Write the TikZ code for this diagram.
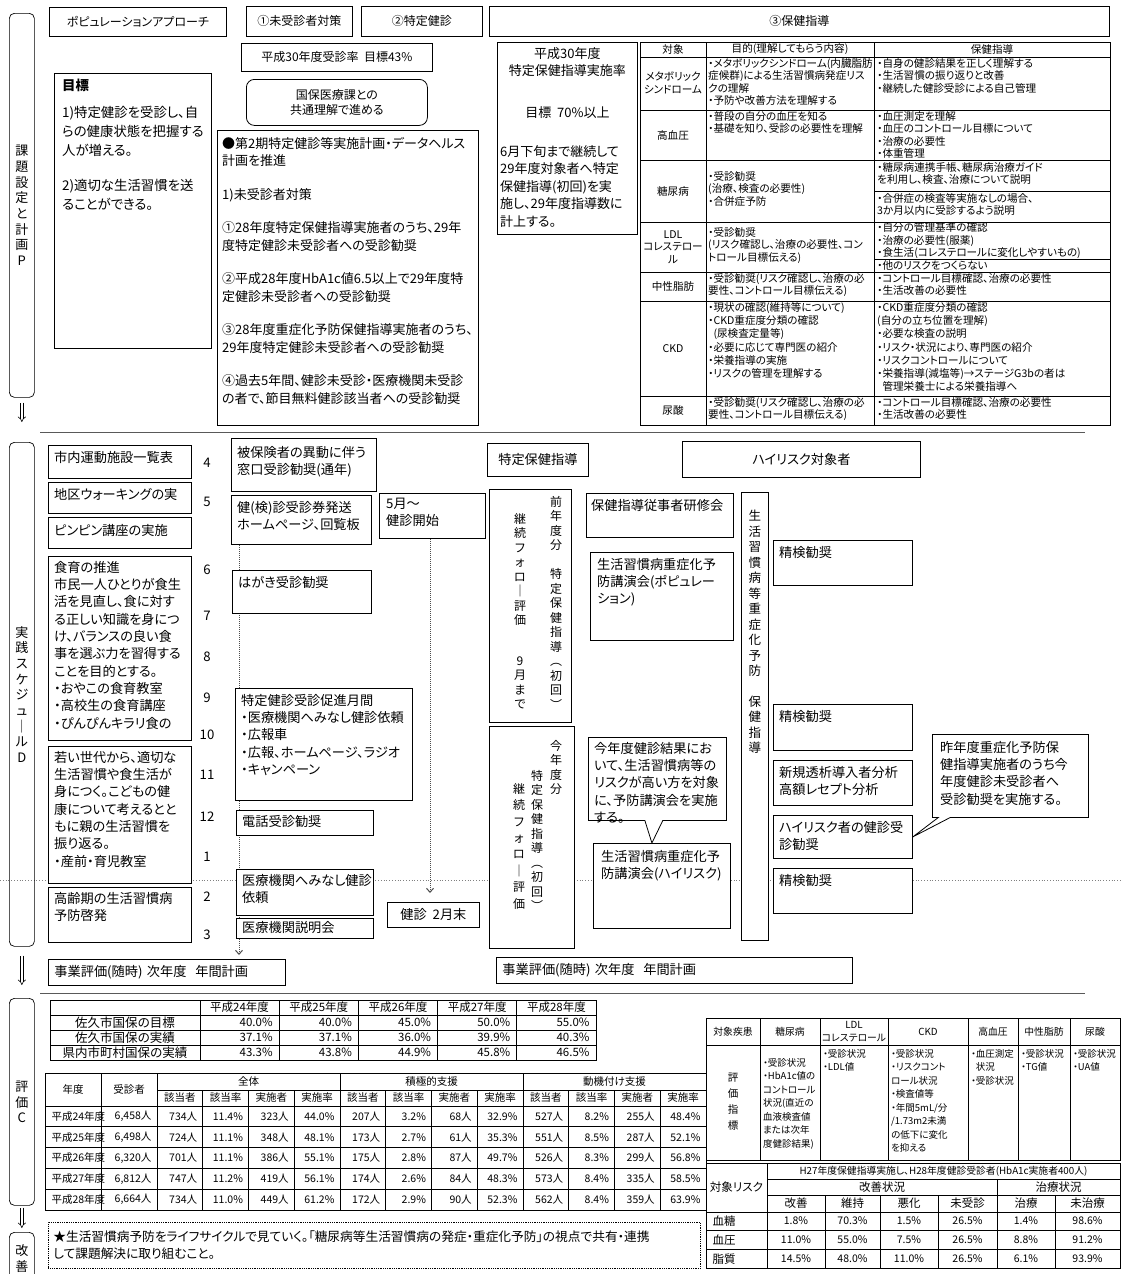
\documentclass[tikz,border=0pt]{standalone}
\usepackage{fontspec}
\setmainfont{Noto Sans CJK JP}[RawFeature=+palt]
\usepackage{tikz}
\usetikzlibrary{positioning, arrows.meta, shapes.callouts, backgrounds}

\begin{document}
\begin{tikzpicture}[
    x=1pt, y=-1pt,
    box/.style={draw, line width=0.8pt, fill=white, anchor=north west, inner sep=0pt},
    txt/.style={anchor=north west, align=left, inner sep=0pt},
    vtxt/.style={anchor=north, align=center, inner sep=0pt},
    lab/.style={draw, line width=0.7pt, rounded corners=5pt, anchor=north west,
                inner sep=0pt, align=center, font=\fontsize{13}{15.7}\selectfont},
    fuki/.style={rectangle callout, draw, fill=white, line width=0.8pt,
                 anchor=north west, inner sep=0pt},
    fA/.style={font=\fontsize{13}{17.5}\selectfont},
    fG/.style={font=\fontsize{13.4}{19}\selectfont},
    fB/.style={font=\fontsize{12}{15}\selectfont},
    fD/.style={font=\fontsize{13.2}{17.3}\selectfont},
    fV/.style={font=\fontsize{12}{14.5}\selectfont},
    fT/.style={font=\fontsize{10.6}{12.6}\selectfont},
    fU/.style={font=\fontsize{10.6}{13.3}\selectfont},
    fE/.style={font=\fontsize{9.5}{13.5}\selectfont},
    fS/.style={font=\fontsize{12.5}{14}\selectfont},
    fR/.style={font=\fontsize{10.5}{12}\selectfont},
    grid/.style={line width=0.7pt},
    sepline/.style={line width=1pt, gray!70!black},
    dbl/.style={double, double distance=2.2pt, line width=0.6pt, -{Implies}},
    dotarr/.style={densely dotted, line width=1pt, gray!60!black,
                   -{Straight Barb[length=4pt, width=7pt]}},
    hdot/.style={dotted, line width=0.8pt, gray}
]

% 背景と用紙サイズ
\begin{scope}[on background layer]
  \fill[white] (0,0) rectangle (1123,1274);
\end{scope}
\useasboundingbox (0,0) rectangle (1123,1274);

% 左側の段階ラベル
\node[lab, minimum width=25, minimum height=384] (lblP) at (9,13) {課\\題\\設\\定\\と\\計\\画\\P};
\node[lab, minimum width=25, minimum height=504] (lblD) at (9,442) {実\\践\\ス\\ケ\\ジ\\ュ\\｜\\ル\\D};
\node[lab, minimum width=25, minimum height=207] (lblC) at (9,998) {評\\価\\C};
\node[lab, minimum width=25, minimum height=52] (lblK) at (9,1232) {改\\善};

\draw[dbl, shorten <=5pt, shorten >=20pt] (lblP) -- (lblD);
\draw[dbl, shorten <=9pt, shorten >=13pt] (lblD) -- (lblC);
\draw[dbl, shorten <=2pt, shorten >=4pt] (lblC) -- (lblK);

% ===== 課題設定と計画 =====
\node[box, fB, minimum width=177, minimum height=29] (hPop) at (49,7) {ポピュレーションアプローチ};
\node[box, fB, minimum width=106, minimum height=30] (hMi) at (246,6) {①未受診者対策};
\node[box, fB, minimum width=121, minimum height=30] (hTk) at (361,6) {②特定健診};
\node[box, fB, minimum width=620, minimum height=30] (hHo) at (489,6) {③保健指導};

\node[box, fB, minimum width=191, minimum height=28] (rate) at (241,43) {平成30年度受診率\ \ 目標43\%};
\node[box, fB, rounded corners=8pt, minimum width=181, minimum height=46, align=center] (kokuho) at (246,79) {国保医療課との\\共通理解で進める};

\node[box, minimum width=157, minimum height=275] (goal) at (54,73) {};
\node[txt, fG] (goal-t) at ([shift={(8,6)}]goal.north west)
  {\textbf{目標}\\[8pt]1)特定健診を受診し、自\\らの健康状態を把握する\\人が増える。\\[16pt]2)適切な生活習慣を送\\ることができる。};

\node[box, minimum width=261, minimum height=295] (plan) at (217,130) {};
\node[txt, fA] (plan-t) at ([shift={(5,7)}]plan.north west)
  {●第2期特定健診等実施計画・データヘルス\\計画を推進\\[16pt]1)未受診者対策\\[16pt]%
   ①28年度特定保健指導実施者のうち、29年\\度特定健診未受診者への受診勧奨\\[16pt]%
   ②平成28年度HbA1c値6.5以上で29年度特\\定健診未受診者への受診勧奨\\[16pt]%
   ③28年度重症化予防保健指導実施者のうち、\\29年度特定健診未受診者への受診勧奨\\[16pt]%
   ④過去5年間、健診未受診・医療機関未受診\\の者で、節目無料健診該当者への受診勧奨};

\node[box, minimum width=140, minimum height=192] (rate2) at (497,42) {};
\node[vtxt, fA] (rate2-a) at ([yshift=-5pt]rate2.north) {平成30年度\\特定保健指導実施率\\[24pt]目標\ \ 70\%以上};
\node[txt, fA] (rate2-b) at ([shift={(3,103)}]rate2.north west)
  {6月下旬まで継続して\\29年度対象者へ特定\\保健指導(初回)を実\\施し、29年度指導数に\\計上する。};

% 保健指導の表
\draw[grid] (640,42) rectangle (1110,425);
\foreach \y in {57,110,160,222,272,301,396} \draw[grid] (640,\y) -- (1110,\y);
\draw[grid] (706,42) -- (706,425);
\draw[grid] (874,42) -- (874,425);
\draw[grid] (874,191) -- (1110,191);
\draw[grid] (874,259) -- (1110,259);

\node[fT] (th1) at (673,49.5) {対象};
\node[fT] (th2) at (790,49.5) {目的(理解してもらう内容)};
\node[fT] (th3) at (992,49.5) {保健指導};
\foreach \lab/\y [count=\i] in {{メタボリック\\シンドローム}/83, 高血圧/135, 糖尿病/191,
    {LDL\\コレステロー\\ル}/247, 中性脂肪/286.5, CKD/348.5, 尿酸/410.5}
  \node[fT, align=center] (tr\i) at (673,\y) {\lab};

\node[txt, fT] (tp1) at (708,58) {・メタボリックシンドローム(内臓脂肪\\症候群)による生活習慣病発症リス\\クの理解\\・予防や改善方法を理解する};
\node[txt, fT] (tq1) at (877,58) {・自身の健診結果を正しく理解する\\・生活習慣の振り返りと改善\\・継続した健診受診による自己管理};
\node[txt, fT] (tp2) at (708,111) {・普段の自分の血圧を知る\\・基礎を知り、受診の必要性を理解};
\node[txt, fT] (tq2) at (877,111) {・血圧測定を理解\\・血圧のコントロール目標について\\・治療の必要性\\・体重管理};
\node[txt, fT] (tp3) at (708,171) {・受診勧奨\\(治療、検査の必要性)\\・合併症予防};
\node[txt, fT] (tq3a) at (877,162) {・糖尿病連携手帳、糖尿病治療ガイド\\を利用し、検査、治療について説明};
\node[txt, fT] (tq3b) at (877,193) {・合併症の検査等実施なしの場合、\\3か月以内に受診するよう説明};
\node[txt, fT] (tp4) at (708,227) {・受診勧奨\\(リスク確認し、治療の必要性、コン\\トロール目標伝える)};
\node[txt, fT] (tq4a) at (877,222.5) {・自分の管理基準の確認\\・治療の必要性(服薬)\\・食生活(コレステロールに変化しやすいもの)};
\node[txt, fT] (tq4b) at (877,260) {・他のリスクをつくらない};
\node[txt, fT] (tp5) at (708,273) {・受診勧奨(リスク確認し、治療の必\\要性、コントロール目標伝える)};
\node[txt, fT] (tq5) at (877,273) {・コントロール目標確認、治療の必要性\\・生活改善の必要性};
\node[txt, fU] (tp6) at (708,302) {・現状の確認(維持等について)\\・CKD重症度分類の確認\\\hspace{0.5em}(尿検査定量等)\\・必要に応じて専門医の紹介\\・栄養指導の実施\\・リスクの管理を理解する};
\node[txt, fU] (tq6) at (877,302) {・CKD重症度分類の確認\\(自分の立ち位置を理解)\\・必要な検査の説明\\・リスク・状況により、専門医の紹介\\・リスクコントロールについて\\・栄養指導(減塩等)→ステージG3bの者は\\\hspace{0.5em}管理栄養士による栄養指導へ};
\node[txt, fT] (tp7) at (708,397) {・受診勧奨(リスク確認し、治療の必\\要性、コントロール目標伝える)};
\node[txt, fT] (tq7) at (877,397) {・コントロール目標確認、治療の必要性\\・生活改善の必要性};

\draw[sepline] (40,432) -- (1085,432);

% ===== 実践スケジュール =====
\node[box, minimum width=143, minimum height=33] (undo) at (48,445) {};
\node[txt, fD] (undo-t) at ([shift={(6,6)}]undo.north west) {市内運動施設一覧表};
\node[box, minimum width=143, minimum height=31] (walk) at (48,482) {};
\node[txt, fD] (walk-t) at ([shift={(6,6)}]walk.north west) {地区ウォーキングの実};
\node[box, minimum width=143, minimum height=31] (pinpin) at (48,517) {};
\node[txt, fD] (pinpin-t) at ([shift={(6,7)}]pinpin.north west) {ピンピン講座の実施};
\node[box, minimum width=143, minimum height=184] (shokuiku) at (48,556) {};
\node[txt, fD] (shokuiku-t) at ([shift={(6,5)}]shokuiku.north west)
  {食育の推進\\市民一人ひとりが食生\\活を見直し、食に対す\\る正しい知識を身につ\\け、バランスの良い食\\事を選ぶ力を習得する\\ことを目的とする。\\・おやこの食育教室\\・高校生の食育講座\\・ぴんぴんキラリ食の};
\node[box, minimum width=143, minimum height=137] (wakai) at (48,746) {};
\node[txt, fD] (wakai-t) at ([shift={(6,5)}]wakai.north west)
  {若い世代から、適切な\\生活習慣や食生活が\\身につく。こどもの健\\康について考えるとと\\もに親の生活習慣を\\振り返る。\\・産前・育児教室};
\node[box, minimum width=143, minimum height=55] (koureiki) at (48,887) {};
\node[txt, fD] (koureiki-t) at ([shift={(6,5)}]koureiki.north west) {高齢期の生活習慣病\\予防啓発};

% 月
\foreach \m/\y in {4/463,5/502,6/570,7/616,8/657,9/698,10/735,11/775,12/817,1/857,2/897,3/935}
  \node[fD] (m\m) at (207,\y) {\m};

% 特定健診の流れ
\node[box, minimum width=145, minimum height=53] (ido) at (231,438) {};
\node[txt, fD] (ido-t) at ([shift={(6,8)}]ido.north west) {被保険者の異動に伴う\\窓口受診勧奨(通年)};
\node[box, minimum width=140, minimum height=49] (juken) at (231,495) {};
\node[txt, fD] (juken-t) at ([shift={(6,6)}]juken.north west) {健(検)診受診券発送\\ホームページ、回覧板};
\node[box, minimum width=106, minimum height=45] (kaishi) at (379,493) {};
\node[txt, fD] (kaishi-t) at ([shift={(7,5)}]kaishi.north west) {5月～\\健診開始};
\node[box, minimum width=139, minimum height=43] (hagaki) at (232,570) {};
\node[txt, fD] (hagaki-t) at ([shift={(6,6)}]hagaki.north west) {はがき受診勧奨};
\node[box, minimum width=177, minimum height=112] (sokushin) at (235,688) {};
\node[txt, fD] (sokushin-t) at ([shift={(6,6)}]sokushin.north west)
  {特定健診受診促進月間\\・医療機関へみなし健診依頼\\・広報車\\・広報、ホームページ、ラジオ\\・キャンペーン};
\node[box, minimum width=137, minimum height=25] (denwa) at (236,810) {};
\node[txt, fD] (denwa-t) at ([shift={(6,5)}]denwa.north west) {電話受診勧奨};
\node[box, minimum width=137, minimum height=46] (minashi) at (236,869) {};
\node[txt, fD] (minashi-t) at ([shift={(6,5)}]minashi.north west) {医療機関へみなし健診\\依頼};
\node[box, fD, minimum width=92, minimum height=25] (kikan) at (387,902) {健診\ \ 2月末};
\node[box, minimum width=137, minimum height=20] (setsumei) at (236,918) {};
\node[txt, fD] (setsumei-t) at ([shift={(6,3)}]setsumei.north west) {医療機関説明会};

\coordinate (endL) at (239,955);
\coordinate (endR) at (430,893);
\begin{scope}[on background layer]
  \draw[hdot] (0,880) -- (1123,880);
  \draw[dotarr] (endL |- juken.south) -- (endL);
  \draw[dotarr] (endR |- kaishi.south) -- (endR);
\end{scope}

% 特定保健指導
\node[box, fD, minimum width=101, minimum height=33] (hTokHo) at (487,443) {特定保健指導};
\node[box, fD, minimum width=238, minimum height=36] (hHigh) at (682,441) {ハイリスク対象者};

\node[box, minimum width=82, minimum height=233] (zen) at (489,489) {};
\node[vtxt, fV] (zen-a) at ([shift={(67,7)}]zen.north west) {前\\年\\度\\分\\[14.5pt]特\\定\\保\\健\\指\\導\\︵\\初\\回\\︶};
\node[vtxt, fV] (zen-b) at ([shift={(31,24)}]zen.north west) {継\\続\\フ\\ォ\\ロ\\｜\\評\\価\\[26pt]9\\月\\ま\\で};

\node[box, minimum width=85, minimum height=222] (kon) at (489,726) {};
\node[vtxt, fV] (kon-a) at ([shift={(67,14)}]kon.north west) {今\\年\\度\\分};
\node[vtxt, fV] (kon-b) at ([shift={(48,44)}]kon.north west) {特\\定\\保\\健\\指\\導\\︵\\初\\回\\︶};
\node[vtxt, font=\fontsize{12}{16.4}\selectfont] (kon-c) at ([shift={(30,57)}]kon.north west) {継\\続\\フ\\ォ\\ロ\\｜\\評\\価};

\node[box, minimum width=147, minimum height=44] (kenshu) at (586,493) {};
\node[txt, fD] (kenshu-t) at ([shift={(5,6)}]kenshu.north west) {保健指導従事者研修会};
\node[box, minimum width=143, minimum height=88] (koenP) at (590,552) {};
\node[txt, fD] (koenP-t) at ([shift={(7,6)}]koenP.north west) {生活習慣病重症化予\\防講演会(ポピュレー\\ション)};
\node[box, minimum width=137, minimum height=85] (koenH) at (593,843) {};
\node[txt, fD] (koenH-t) at ([shift={(8,7)}]koenH.north west) {生活習慣病重症化予\\防講演会(ハイリスク)};

\node[fuki, minimum width=138, minimum height=83, callout pointer width=18pt,
      callout absolute pointer={([xshift=-10pt]koenH.north)}] (fuki1) at (588,737) {};
\node[txt, fD] (fuki1-t) at ([shift={(6,5)}]fuki1.north west)
  {今年度健診結果にお\\いて、生活習慣病等の\\リスクが高い方を対象\\に、予防講演会を実施\\する。};

% 重症化予防
\node[box, minimum width=27, minimum height=448] (juusho) at (741,492) {};
\node[vtxt, font=\fontsize{12.5}{15.5}\selectfont] (juusho-t) at ([yshift=-18pt]juusho.north)
  {生\\活\\習\\慣\\病\\等\\重\\症\\化\\予\\防\\[15pt]保\\健\\指\\導};

\node[box, minimum width=139, minimum height=45] (seiken1) at (773,540) {};
\node[txt, fD] (seiken1-t) at ([shift={(6,6)}]seiken1.north west) {精検勧奨};
\node[box, minimum width=139, minimum height=46] (seiken2) at (773,704) {};
\node[txt, fD] (seiken2-t) at ([shift={(6,6)}]seiken2.north west) {精検勧奨};
\node[box, minimum width=139, minimum height=45] (toseki) at (773,760) {};
\node[txt, fD] (toseki-t) at ([shift={(6,6)}]toseki.north west) {新規透析導入者分析\\高額レセプト分析};
\node[box, minimum width=139, minimum height=43] (hrsha) at (773,815) {};
\node[txt, fD] (hrsha-t) at ([shift={(6,6)}]hrsha.north west) {ハイリスク者の健診受\\診勧奨};
\node[box, minimum width=139, minimum height=45] (seiken3) at (773,868) {};
\node[txt, fD] (seiken3-t) at ([shift={(6,6)}]seiken3.north west) {精検勧奨};

\node[fuki, minimum width=156, minimum height=83, callout pointer width=12pt,
      callout absolute pointer={(hrsha.east)}] (fuki2) at (932,734) {};
\node[txt, fD] (fuki2-t) at ([shift={(8,7)}]fuki2.north west)
  {昨年度重症化予防保\\健指導実施者のうち今\\年度健診未受診者へ\\受診勧奨を実施する。};

\node[box, fD, minimum width=237, minimum height=26, text width=225, align=left] (hyoka1) at (48,959) {事業評価(随時)\ 次年度\ \ 年間計画};
\node[box, fD, minimum width=356, minimum height=26, text width=344, align=left] (hyoka2) at (496,957) {事業評価(随時)\ 次年度\ \ 年間計画};

\draw[sepline] (40,993) -- (1085,993);

% ===== 評価 =====
% 受診率の表
\draw[grid] (50,1000) rectangle (596,1060);
\foreach \y in {1015,1030,1045} \draw[grid] (50,\y) -- (596,\y);
\foreach \x in {200,279.2,358.4,437.6,516.8} \draw[grid] (\x,1000) -- (\x,1060);
\foreach \yy [count=\c] in {24,25,26,27,28}
  \node[fR, font=\fontsize{11.5}{13}\selectfont] (t1h\c) at ({160.4+79.2*\c},1007.5) {平成\yy 年度};
\foreach \lab [count=\r] in {佐久市国保の目標, 佐久市国保の実績, 県内市町村国保の実績}
  \node[fS] (t1l\r) at (125,{1007.5+15*\r}) {\lab};
\foreach \vals [count=\r] in {{40.0,40.0,45.0,50.0,55.0},{37.1,37.1,36.0,39.9,40.3},{43.3,43.8,44.9,45.8,46.5}}
  \foreach \v [count=\c] in \vals
    \node[fR, font=\fontsize{11.5}{13}\selectfont, anchor=east] (t1v\r-\c) at ({197+79.2*\c},{1007.5+15*\r}) {\v\%};

% 特定保健指導実施状況の表
\draw[grid] (45,1073) rectangle (706,1210);
\draw[grid] (157,1090) -- (706,1090);
\foreach \y in {1106,1126.8,1147.6,1168.4,1189.2} \draw[grid] (45,\y) -- (706,\y);
\foreach \x in {101,157,340,523} \draw[grid] (\x,1073) -- (\x,1210);
\foreach \k in {1,2,3,5,6,7,9,10,11} \draw[grid] ({157+45.75*\k},1090) -- ({157+45.75*\k},1210);
\node[fR] (t2a) at (73,1089.5) {年度};
\node[fR] (t2b) at (129,1089.5) {受診者};
\node[fR] (t2c) at (248.5,1081.5) {全体};
\node[fR] (t2d) at (431.5,1081.5) {積極的支援};
\node[fR] (t2e) at (614.5,1081.5) {動機付け支援};
\foreach \lab [count=\k] in {該当者,該当率,実施者,実施率,該当者,該当率,実施者,実施率,該当者,該当率,実施者,実施率}
  \node[fR] (t2h\k) at ({157+45.75*\k-22.9},1098) {\lab};
\foreach \yr [count=\r] in {平成24年度,平成25年度,平成26年度,平成27年度,平成28年度}
  \node[fR, anchor=west] (t2y\r) at (48,{1095.6+20.8*\r}) {\yr};
\foreach \vals [count=\r] in {
    {{6,458人},734人,11.4\%,323人,44.0\%,207人,3.2\%,68人,32.9\%,527人,8.2\%,255人,48.4\%},
    {{6,498人},724人,11.1\%,348人,48.1\%,173人,2.7\%,61人,35.3\%,551人,8.5\%,287人,52.1\%},
    {{6,320人},701人,11.1\%,386人,55.1\%,175人,2.8\%,87人,49.7\%,526人,8.3\%,299人,56.8\%},
    {{6,812人},747人,11.2\%,419人,56.1\%,174人,2.6\%,84人,48.3\%,573人,8.4\%,335人,58.5\%},
    {{6,664人},734人,11.0\%,449人,61.2\%,172人,2.9\%,90人,52.3\%,562人,8.4\%,359人,63.9\%}}
  \foreach \v [count=\c] in \vals
    \node[fR, anchor=east] (t2v\r-\c) at ({155+45.75*(\c-1)},{1095.6+20.8*\r}) {\v};

% 評価指標の表
\draw[grid] (706,1018) rectangle (1120,1160);
\draw[grid] (706,1045) -- (1120,1045);
\foreach \x in {760,820,888,968,1018,1070} \draw[grid] (\x,1018) -- (\x,1160);
\foreach \lab/\x [count=\i] in {対象疾患/733, 糖尿病/790, {LDL\\コレステロール}/854, CKD/928,
    高血圧/993, 中性脂肪/1044, 尿酸/1095}
  \node[fE, font=\fontsize{9.8}{12.4}\selectfont, align=center] (d\i) at (\x,1031.5) {\lab};
\node[align=center, font=\fontsize{10.5}{16}\selectfont] (e0) at (733,1102) {評\\価\\指\\標};
\node[txt, fE] (e1) at (763,1058) {・受診状況\\・HbA1c値の\\コントロール\\状況(直近の\\血液検査値\\または次年\\度健診結果)};
\node[txt, fE] (e2) at (823,1049) {・受診状況\\・LDL値};
\node[txt, fE] (e3) at (891,1049) {・受診状況\\・リスクコント\\ロール状況\\・検査値等\\・年間5mL/分\\/1.73m2未満\\の低下に変化\\を抑える};
\node[txt, fE] (e4) at (971,1049) {・血圧測定\\\hspace{0.5em}状況\\・受診状況};
\node[txt, fE] (e5) at (1021,1049) {・受診状況\\・TG値};
\node[txt, fE] (e6) at (1073,1049) {・受診状況\\・UA値};

% 改善状況の表
\draw[grid] (706,1163) rectangle (1120,1268);
\draw[grid] (767,1179) -- (1120,1179);
\draw[grid] (767,1195) -- (1120,1195);
\foreach \y in {1212,1230,1249} \draw[grid] (706,\y) -- (1120,\y);
\draw[grid] (767,1163) -- (767,1268);
\draw[grid] (997,1179) -- (997,1268);
\foreach \x in {825,880,938,1055} \draw[grid] (\x,1195) -- (\x,1268);
\node[fE, font=\fontsize{9.8}{12}\selectfont] (t4a) at (943.5,1171) {H27年度保健指導実施し、H28年度健診受診者(HbA1c実施者400人)};
\node[fR, font=\fontsize{11.5}{13}\selectfont] (t4b) at (736.5,1187.5) {対象リスク};
\node[fR, font=\fontsize{11.5}{13}\selectfont] (t4c) at (882,1187) {改善状況};
\node[fR, font=\fontsize{11.5}{13}\selectfont] (t4d) at (1058.5,1187) {治療状況};
\foreach \lab/\x [count=\k] in {改善/796,維持/852.5,悪化/909,未受診/967.5,治療/1026,未治療/1087.5}
  \node[fR, font=\fontsize{11.5}{13}\selectfont] (t4h\k) at (\x,1203.5) {\lab};
\foreach \lab [count=\r] in {血糖,血圧,脂質}
  \node[fR, font=\fontsize{11.5}{13}\selectfont, anchor=west] (t4l\r) at (709,{1202.3+18.8*\r}) {\lab};
\foreach \x/\a/\b/\d [count=\c] in {796/1.8/11.0/14.5, 852.5/70.3/55.0/48.0, 909/1.5/7.5/11.0,
    967.5/26.5/26.5/26.5, 1026/1.4/8.8/6.1, 1087.5/98.6/91.2/93.9} {
  \node[fR] (t4v1-\c) at (\x,1221) {\a\%};
  \node[fR] (t4v2-\c) at (\x,1240) {\b\%};
  \node[fR] (t4v3-\c) at (\x,1258.8) {\d\%};
}

% ===== 改善 =====
\node[box, densely dotted, line width=0.7pt, minimum width=652, minimum height=46, text width=642,
      align=left, font=\fontsize{12.7}{17}\selectfont] (kaizen) at (48,1222)
  {★生活習慣病予防をライフサイクルで見ていく。「糖尿病等生活習慣病の発症・重症化予防」の視点で共有・連携\\して課題解決に取り組むこと。};

\end{tikzpicture}
\end{document}
